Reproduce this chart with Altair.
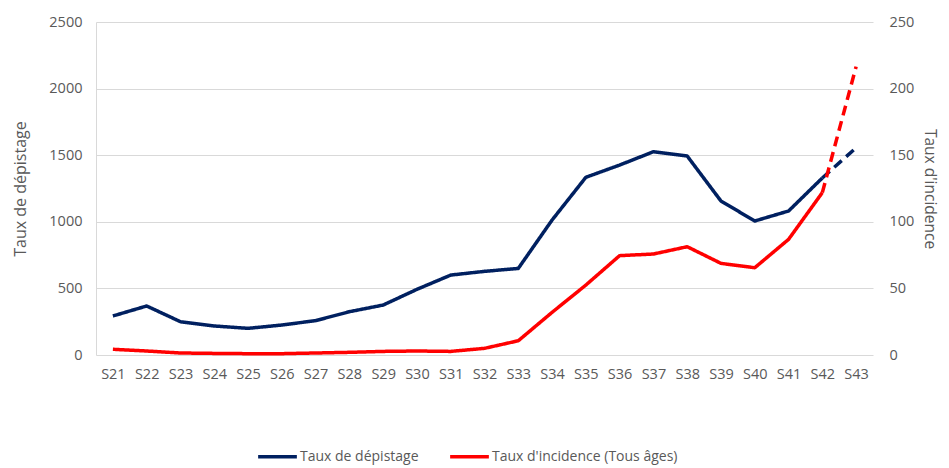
import altair as alt
import pandas as pd

weeks = ["S21", "S22", "S23", "S24", "S25", "S26", "S27", "S28", "S29", "S30", "S31",
         "S32", "S33", "S34", "S35", "S36", "S37", "S38", "S39", "S40", "S41", "S42", "S43"]
depistage = [293, 368, 250, 218, 200, 225, 258, 325, 375, 493, 600,
             628, 650, 1013, 1334, 1426, 1526, 1494, 1156, 1006, 1081, 1329, 1556]
incidence = [4.3, 3.0, 1.5, 1.2, 1.0, 1.0, 1.5, 2.0, 2.7, 3.0, 2.7,
             5.0, 10.7, 32.0, 52.5, 74.6, 75.8, 81.3, 68.8, 65.5, 86.8, 121.9, 216.5]
# last week is provisional (dashed)
provisional_from = "S42"

S1 = "Taux de dépistage"
S2 = "Taux d'incidence (Tous âges)"


def build(values, name):
    rows = []
    idx = weeks.index(provisional_from)
    for i, (w, v) in enumerate(zip(weeks, values)):
        if i <= idx:
            rows.append({"week": w, "value": v, "serie": name, "seg": "solid"})
        if i >= idx:
            rows.append({"week": w, "value": v, "serie": name, "seg": "dash"})
    return pd.DataFrame(rows)


df1 = build(depistage, S1)
df2 = build(incidence, S2)

FONT = "Open Sans"
GREY = "#595959"

x_enc = alt.X("week:N", sort=weeks, title=None,
              scale=alt.Scale(paddingInner=0, paddingOuter=0),
              axis=alt.Axis(labelAngle=0, ticks=False, domain=False, grid=False,
                            labelPadding=12, labelFontSize=14.5, labelColor=GREY,
                            labelFont=FONT))

color_enc = alt.Color("serie:N", title=None,
                      scale=alt.Scale(domain=[S1, S2], range=["#002060", "#FF0000"]),
                      legend=alt.Legend(orient="none", direction="horizontal",
                                        legendX=160, legendY=413,
                                        symbolType="stroke", symbolSize=1500,
                                        symbolStrokeWidth=3.5, labelFontSize=14,
                                        labelColor=GREY, labelFont=FONT, labelLimit=400,
                                        columnPadding=24, labelOffset=1,
                                        symbolOffset=0))

dash_enc = alt.StrokeDash("seg:N",
                          scale=alt.Scale(domain=["solid", "dash"], range=[[1, 0], [10, 6]]),
                          legend=None)

blue = alt.Chart(df1).mark_line(strokeWidth=3.5, strokeCap="butt", strokeJoin="round").encode(
    x=x_enc,
    y=alt.Y("value:Q", title="Taux de dépistage",
            scale=alt.Scale(domain=[0, 2500], nice=False),
            axis=alt.Axis(values=[0, 500, 1000, 1500, 2000, 2500], format="d", ticks=False,
                          domain=True, domainColor="#d9d9d9", grid=True, gridColor="#d9d9d9",
                          labelPadding=14, labelFontSize=14.5, labelColor=GREY, labelFont=FONT,
                          titleFontSize=16, titleColor=GREY, titleFont=FONT,
                          titleFontWeight="normal", titlePadding=20)),
    color=color_enc,
    strokeDash=dash_enc,
    detail="seg:N",
)

red = alt.Chart(df2).mark_line(strokeWidth=3.5, strokeCap="butt", strokeJoin="round").encode(
    x=x_enc,
    y=alt.Y("value:Q", title="Taux d'incidence",
            scale=alt.Scale(domain=[0, 250], nice=False),
            axis=alt.Axis(orient="right", values=[0, 50, 100, 150, 200, 250], format="d",
                          ticks=False, domain=False, grid=False,
                          labelPadding=16, labelFontSize=14.5, labelColor=GREY, labelFont=FONT,
                          titleFontSize=15.5, titleColor=GREY, titleFont=FONT,
                          titleFontWeight="normal", titlePadding=8)),
    color=color_enc,
    strokeDash=dash_enc,
    detail="seg:N",
)

chart = alt.layer(blue, red).resolve_scale(y="independent").properties(
    width=777, height=333,
    autosize=alt.AutoSizeParams(type="none"),
    padding={"left": 88, "top": 14, "right": 68, "bottom": 111},
).configure_view(stroke=None).configure_axis(gridWidth=1.2)

chart.save("out.html", embed_options={"renderer": "svg", "actions": False})
